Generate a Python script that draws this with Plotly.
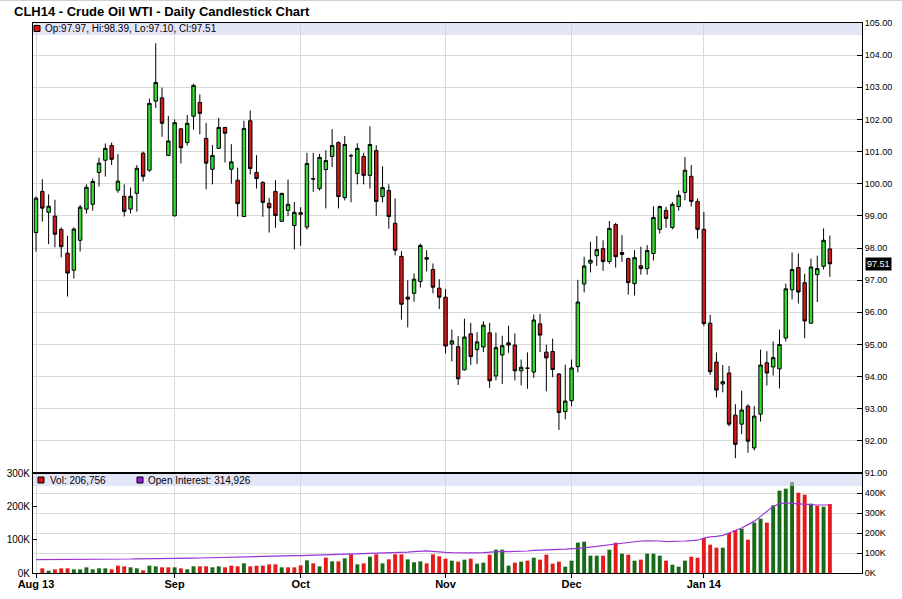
import pandas as pd
import plotly.graph_objects as go

# ---------------- data ----------------
TITLE = "CLH14 - Crude Oil WTI - Daily Candlestick Chart"
START, END = "2013-08-01", "2014-01-31"
HOLIDAYS = ["2013-09-02", "2013-11-28", "2013-12-25", "2014-01-01", "2014-01-20"]
TICK_LABELS = ["Aug 13", "Sep", "Oct", "Nov", "Dec", "Jan 14"]
PRICE_TICKS = list(range(91, 106))
VOL_TICKS = [0, 100000, 200000, 300000]
VOL_TICK_TEXT = ["0K", "100K", "200K", "300K"]
OI_TICKS = [0, 100000, 200000, 300000, 400000]
OI_TICK_TEXT = ["0K", "100K", "200K", "300K", "400K"]
OI_LATEST = 314926

OPEN = [98.48, 99.76, 99.11, 98.99, 98.58, 97.84, 97.31, 98.24, 99.21, 99.36,
        100.35, 100.73, 101.19, 99.80, 99.61, 99.21, 99.70, 100.95, 100.42, 102.57,
        102.67, 100.88, 99.00, 101.71, 101.28, 102.10, 102.53, 101.41, 100.45, 101.10,
        101.75, 100.45, 100.11, 98.98, 101.96, 100.35, 100.04, 99.39, 99.76, 98.83,
        99.17, 98.70, 99.10, 98.65, 100.14, 99.85, 100.44, 100.85, 101.28, 99.57,
        100.87, 100.32, 100.85, 100.26, 101.03, 99.60, 99.79, 98.77, 97.74, 96.47,
        96.59, 96.96, 97.65, 97.33, 96.75, 96.47, 95.01, 94.93, 94.21, 95.33,
        94.84, 94.92, 95.36, 94.02, 94.67, 95.05, 94.98, 94.18, 94.26, 94.14,
        95.64, 94.76, 94.78, 94.08, 92.91, 93.25, 94.31, 96.88, 97.53, 97.76,
        97.98, 97.58, 98.73, 97.86, 97.67, 96.89, 97.45, 97.36, 97.83, 98.58,
        99.17, 98.64, 99.29, 99.73, 100.23, 99.45, 98.58, 95.66, 94.45, 93.77,
        94.11, 92.80, 92.52, 93.08, 91.78, 92.83, 94.43, 94.30, 94.24, 95.20,
        96.70, 97.39, 96.92, 95.66, 97.17, 97.43, 97.97]
HIGH = [99.60, 100.14, 99.67, 99.50, 98.64, 98.38, 98.64, 99.34, 99.98, 100.16,
        100.81, 101.25, 101.28, 100.92, 99.98, 99.88, 100.58, 101.00, 102.65, 104.37,
        102.99, 102.11, 102.00, 101.73, 102.14, 103.11, 102.78, 101.89, 101.20, 102.05,
        101.77, 101.23, 100.50, 101.96, 102.28, 100.89, 100.08, 99.56, 100.11, 99.72,
        100.13, 99.43, 99.27, 100.96, 100.96, 100.93, 101.04, 101.70, 101.32, 101.48,
        100.93, 101.26, 100.96, 101.79, 101.20, 100.54, 99.98, 99.54, 97.90, 97.00,
        97.21, 98.14, 97.93, 97.52, 97.03, 96.72, 95.46, 95.26, 95.80, 95.67,
        95.38, 95.72, 95.67, 95.37, 95.27, 95.58, 95.34, 94.53, 94.75, 95.93,
        95.95, 94.99, 95.18, 94.11, 94.37, 94.53, 97.01, 97.73, 98.19, 98.37,
        98.24, 98.84, 98.78, 98.40, 97.70, 97.93, 98.04, 98.09, 99.30, 99.32,
        99.28, 99.43, 99.79, 100.83, 100.58, 99.54, 99.12, 95.92, 94.75, 94.36,
        94.33, 93.14, 93.56, 93.14, 93.08, 94.84, 94.79, 95.09, 95.46, 96.89,
        97.86, 97.83, 97.20, 97.67, 97.76, 98.61, 98.39]
LOW = [97.89, 98.82, 98.12, 98.02, 97.71, 96.49, 97.05, 97.89, 99.07, 99.16,
       99.91, 100.22, 100.58, 99.72, 98.98, 99.07, 99.13, 100.07, 100.37, 102.36,
       101.46, 100.86, 98.99, 100.63, 101.19, 101.68, 101.54, 99.83, 99.98, 101.08,
       100.66, 100.00, 98.98, 98.96, 100.29, 99.85, 98.97, 98.48, 98.63, 98.81,
       98.99, 97.96, 98.07, 98.57, 99.75, 99.79, 99.23, 100.52, 99.23, 99.48,
       99.42, 99.98, 99.98, 99.85, 99.00, 99.42, 98.60, 97.77, 95.77, 95.53,
       96.33, 96.77, 97.27, 96.59, 96.10, 94.72, 94.47, 93.74, 94.19, 94.36,
       94.39, 94.76, 93.65, 93.88, 93.77, 94.74, 93.88, 93.73, 93.62, 93.96,
       94.76, 93.54, 93.98, 92.34, 92.67, 93.08, 94.13, 96.62, 97.24, 97.44,
       97.29, 97.51, 97.39, 97.57, 96.55, 96.52, 97.17, 97.17, 97.61, 98.45,
       98.63, 98.58, 99.16, 99.49, 99.29, 98.29, 95.57, 94.05, 93.35, 93.51,
       92.45, 91.46, 92.21, 91.63, 91.70, 92.60, 93.72, 94.03, 93.63, 95.09,
       96.40, 96.27, 95.19, 95.64, 96.32, 97.33, 97.10]
CLOSE = [99.55, 99.24, 99.30, 98.43, 98.04, 97.22, 98.59, 99.27, 99.89, 100.07,
         100.64, 101.10, 100.76, 100.08, 99.14, 99.61, 100.48, 100.23, 102.50, 103.15,
         101.88, 101.33, 101.90, 101.12, 101.88, 103.06, 102.19, 100.64, 100.88, 101.75,
         101.57, 100.68, 99.38, 101.72, 100.47, 100.16, 99.42, 99.25, 99.01, 99.70,
         99.36, 99.11, 99.05, 100.63, 100.16, 100.82, 100.72, 101.19, 99.60, 101.22,
         100.87, 101.10, 100.26, 101.22, 99.45, 99.88, 98.98, 97.93, 96.25, 96.41,
         97.03, 98.08, 97.70, 96.78, 96.47, 94.95, 95.11, 93.93, 95.23, 94.62,
         95.08, 95.60, 93.87, 94.90, 94.96, 94.98, 94.18, 94.29, 94.26, 95.76,
         95.29, 94.58, 94.22, 92.88, 93.24, 94.27, 96.32, 97.44, 97.62, 97.95,
         97.58, 98.61, 97.73, 97.80, 96.92, 97.70, 97.36, 97.92, 98.95, 99.29,
         98.92, 99.36, 99.64, 100.42, 99.45, 98.58, 95.65, 94.15, 93.58, 93.84,
         92.52, 91.89, 92.96, 91.99, 92.77, 94.36, 94.11, 94.59, 95.00, 96.73,
         97.33, 96.63, 95.73, 97.41, 97.36, 98.24, 97.51]
# volume in thousands of contracts (first day not drawn)
VOLUME_K = [None,
            14, 7, 11, 14, 14, 11, 11, 17, 11, 14, 14, 11, 22, 20, 17, 14, 8, 22, 20, 17,
            17, 17, 14, 11, 20, 20, 20, 17, 20, 17, 22, 20, 29, 20, 22, 22, 26, 26, 17, 17,
            17, 23,
            38, 29, 20, 46, 35, 35, 44, 56, 26, 29, 49, 56, 29, 41, 56, 56, 41, 32, 35, 29,
            56, 50,
            43, 37, 34, 40, 43, 28, 31, 55, 70, 70, 22, 31, 34, 37, 46, 40, 55, 28, 34, 19,
            37,
            91, 94, 52, 52, 52, 70, 91, 58, 55, 37, 40, 58, 58, 52, 37, 25, 19, 37, 49, 46,
            105, 85, 76, 76, 120, 129, 133, 100, 151, 163, 151, 203, 247, 253, 273, 241,
            235, 208, 202, 199, 206.756]
# open interest in thousands of contracts
OPEN_INTEREST_K = [67, 67, 67, 67, 68, 68, 68, 68, 69, 69, 69, 70, 70, 70, 70, 70, 71, 71,
                   71, 72, 72, 72,
                   73, 73, 74, 74, 75, 76, 77, 78, 79, 80, 81, 82, 83, 84, 85, 85, 86, 86,
                   86, 87,
                   87, 88, 89, 90, 91, 92, 93, 94, 95, 95, 95, 96, 96, 97, 98, 99, 101, 104,
                   107, 110, 111, 108, 104,
                   103, 102, 101, 100, 100, 101, 102, 105, 108, 108, 107, 107, 108, 110, 113,
                   115, 116, 117, 118, 119, 120,
                   123, 126, 130, 134, 138, 143, 147, 151, 155, 158, 160, 161, 162, 160, 157,
                   157, 158, 160, 162, 164,
                   175, 181, 183, 188, 200, 212, 225, 242, 258, 283, 308, 333, 347, 350, 348,
                   345, 343, 342, 340, 340, 340]

# ---------------- derived ----------------
dates = pd.bdate_range(START, END)
dates = dates[~dates.isin(pd.to_datetime(HOLIDAYS))]
n = len(CLOSE)
idx = list(range(n))
month_pos = [i for i in range(n) if i == 0 or dates[i].month != dates[i - 1].month]

volume = [None if v is None else v * 1000 for v in VOLUME_K]
oi = [v * 1000 for v in OPEN_INTEREST_K]

C_UP, C_DN = "#33dc33", "#d01a1a"
V_UP, V_DN = "#176a17", "#e41b1b"
vol_colors = [V_UP] + [V_UP if CLOSE[i] >= CLOSE[i - 1] else V_DN for i in range(1, n)]

FONT = "Liberation Sans, Arial, sans-serif"
GRID = "#d9d9d9"
BAND = "rgb(208,208,243)"

W, H = 902, 599
ML, MR, MT, MB = 33, 40, 23, 26
PW, PH = W - ML - MR, H - MT - MB
SPLIT = 100 / PH  # volume panel height fraction


def X(px):
    return (px - ML) / PW


def Y(py):
    return (H - MB - py) / PH


hover = [d.strftime("%Y-%m-%d") for d in dates]

fig = go.Figure()
fig.add_trace(go.Candlestick(
    x=idx, open=OPEN, high=HIGH, low=LOW, close=CLOSE, text=hover,
    xaxis="x", yaxis="y", whiskerwidth=0,
    increasing=dict(fillcolor=C_UP, line=dict(color="black", width=1)),
    decreasing=dict(fillcolor=C_DN, line=dict(color="black", width=1)),
    showlegend=False))
fig.add_trace(go.Bar(
    x=idx, y=volume, marker=dict(color=vol_colors, line=dict(width=0)),
    width=0.62, xaxis="x2", yaxis="y2", showlegend=False, hovertext=hover))
fig.add_trace(go.Scatter(
    x=idx, y=oi, mode="lines", line=dict(color="#9a35d6", width=1.2),
    xaxis="x2", yaxis="y3", showlegend=False, hovertext=hover))

xr = [-0.48, 131.1]
fig.update_layout(
    width=W, height=H,
    margin=dict(l=ML, r=MR, t=MT, b=MB, pad=0, autoexpand=False),
    paper_bgcolor="white", plot_bgcolor="white",
    font=dict(family=FONT, color="black", size=10),
    boxgap=0.22,
    showlegend=False,
    title=dict(text="<b>" + TITLE + "</b>", x=14 / W, xref="container", xanchor="left",
               y=1 - 11 / H, yref="container", yanchor="middle", automargin=False,
               font=dict(size=13, family=FONT, color="black")),
    xaxis=dict(domain=[0, 1], anchor="y", range=xr, matches="x2", automargin=False,
               tickvals=month_pos, showticklabels=False, ticks="",
               showgrid=True, gridcolor=GRID, gridwidth=1, zeroline=False,
               showline=True, linecolor="black", linewidth=1, mirror=True,
               rangeslider=dict(visible=False)),
    xaxis2=dict(domain=[0, 1], anchor="y2", range=xr, automargin=False,
                tickvals=month_pos, ticktext=TICK_LABELS,
                tickfont=dict(size=11, family=FONT, color="black", weight="bold"),
                ticks="outside", ticklen=4, tickcolor="black",
                ticklabelstandoff=-3,
                showgrid=True, gridcolor=GRID, gridwidth=1, zeroline=False,
                showline=True, linecolor="black", linewidth=1),
    yaxis=dict(domain=[SPLIT, 1], anchor="x", side="right", range=[91, 105],
               automargin=False,
               tickvals=PRICE_TICKS, tickformat=".2f",
               tickfont=dict(size=9, family=FONT, color="black"),
               ticks="inside", ticklen=5, tickcolor="black",
               showgrid=True, gridcolor=GRID, gridwidth=1, zeroline=False,
               showline=True, linecolor="black", linewidth=1, mirror=True),
    yaxis2=dict(domain=[0, SPLIT], anchor="x2", side="left", range=[0, 300000],
                automargin=False,
                tickvals=VOL_TICKS, ticktext=VOL_TICK_TEXT,
                tickfont=dict(size=10, family=FONT, color="black"),
                ticks="inside", ticklen=4, tickcolor="black",
                showgrid=False, zeroline=False,
                showline=True, linecolor="black", linewidth=1),
    yaxis3=dict(overlaying="y2", anchor="x2", side="right", range=[0, 500000],
                automargin=False,
                tickvals=OI_TICKS, ticktext=OI_TICK_TEXT,
                tickfont=dict(size=9, family=FONT, color="black"),
                ticks="inside", ticklen=5, tickcolor="black",
                showgrid=True, gridcolor=GRID, gridwidth=1, zeroline=False,
                showline=True, linecolor="black", linewidth=1),
)

shapes = [
    # legend bands
    dict(type="rect", xref="paper", yref="paper", x0=0, x1=1, y0=Y(35), y1=1,
         fillcolor=BAND, opacity=0.55, line=dict(width=0), layer="above"),
    dict(type="rect", xref="paper", yref="paper", x0=0, x1=1, y0=Y(486), y1=SPLIT,
         fillcolor=BAND, opacity=0.55, line=dict(width=0), layer="above"),
    # panel separator
    dict(type="line", xref="paper", yref="paper", x0=0, x1=1, y0=SPLIT, y1=SPLIT,
         line=dict(color="black", width=2), layer="above"),
    # legend swatches
    dict(type="rect", xref="paper", yref="paper", x0=X(34), x1=X(40), y0=Y(31.5), y1=Y(25.5),
         fillcolor="#dd1111", line=dict(color="black", width=1), layer="above"),
    dict(type="rect", xref="paper", yref="paper", x0=X(38), x1=X(44), y0=Y(483), y1=Y(477),
         fillcolor="#dd1111", line=dict(color="black", width=1), layer="above"),
    dict(type="rect", xref="paper", yref="paper", x0=X(137), x1=X(143), y0=Y(483), y1=Y(477),
         fillcolor="#8a1ee6", line=dict(color="black", width=1), layer="above"),
    # thin frame line at top of image
    dict(type="line", xref="paper", yref="paper", x0=X(0), x1=X(W), y0=Y(0.5), y1=Y(0.5),
         line=dict(color="#d0d0d0", width=1)),
]
fig.update_layout(shapes=shapes)

ohlc_text = "Op:%.2f, Hi:%.2f, Lo:%.2f, Cl:%.2f" % (OPEN[-1], HIGH[-1], LOW[-1], CLOSE[-1])
annotations = [
    dict(text=ohlc_text, xref="paper", yref="paper", x=X(43), y=Y(28.5),
         xanchor="left", yanchor="middle", showarrow=False,
         font=dict(size=10, family=FONT, color="black")),
    dict(text="Vol: {:,}".format(int(round(volume[-1]))), xref="paper", yref="paper",
         x=X(48), y=Y(480), xanchor="left", yanchor="middle", showarrow=False,
         font=dict(size=10, family=FONT, color="black")),
    dict(text="Open Interest: {:,}".format(OI_LATEST), xref="paper", yref="paper",
         x=X(146), y=Y(480), xanchor="left", yanchor="middle", showarrow=False,
         font=dict(size=10, family=FONT, color="black")),
    dict(text="%.2f" % CLOSE[-1], xref="paper", yref="y", x=1, y=CLOSE[-1],
         xanchor="left", yanchor="middle", xshift=3, showarrow=False,
         bgcolor="black", borderpad=1,
         font=dict(size=9, family=FONT, color="white")),
]
fig.update_layout(annotations=annotations)

fig.write_html("out.html", config={"displayModeBar": False},
               post_script="document.body.style.margin='0px';"
                           "document.body.style.overflow='hidden';")
